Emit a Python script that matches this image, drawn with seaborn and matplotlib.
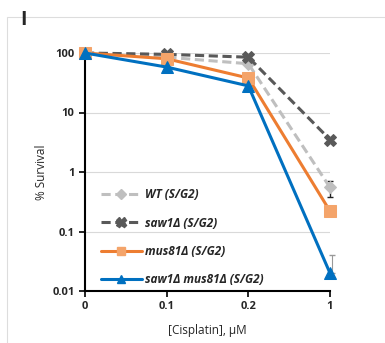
import numpy as np
import pandas as pd
import seaborn as sns
import matplotlib.pyplot as plt
from matplotlib.patches import Rectangle
from matplotlib.lines import Line2D

doses = ["0", "0.1", "0.2", "1"]
wt = [100, 85, 66, 0.55]
saw1 = [100, 95, 85, 3.5]
mus81 = [100, 80, 38, 0.22]
saw1_mus81 = [100, 58, 28, 0.02]
wt_err_lo = [0, 0, 0, 0.17]
wt_err_hi = [0, 0, 0, 0.16]
saw1_mus81_err = [0, 0, 0, 0.02]
labels = ["WT (S/G2)", "saw1Δ (S/G2)", "mus81Δ (S/G2)", "saw1Δ mus81Δ (S/G2)"]

sns.set_theme(style="white")
plt.rcParams['font.family'] = ['Open Sans', 'DejaVu Sans']

fig = plt.figure(figsize=(3.85, 3.43), dpi=100)
fig.patches.append(Rectangle((7/385, -0.1), 1.2, 1 - 17/343 + 0.1, transform=fig.transFigure,
                             fill=False, edgecolor='#dddddd', linewidth=0.8))
fig.text(20/385, 1 - 20/343, "I", fontsize=14, fontweight='bold', va='center', ha='left')

ax = fig.add_axes([85/385, 1 - 291/343, (330 - 85)/385, (291 - 53)/343])

x = np.arange(len(doses))

ax.errorbar(x, wt, yerr=[wt_err_lo, wt_err_hi], fmt='none', ecolor='#222222',
            elinewidth=1.0, capsize=2.5, capthick=1.0, zorder=2, clip_on=False)
ax.errorbar(x + 0.02, saw1_mus81, yerr=[np.zeros(4), saw1_mus81_err], fmt='none', ecolor='#999999',
            elinewidth=0.8, capsize=2.5, zorder=2, clip_on=False)

series = [
    (wt, labels[0], '#BFBFBF', '#BFBFBF', 'D', (3, 1.5), 6),
    (saw1, labels[1], '#595959', '#595959', 'X', (3, 1.5), 9),
    (mus81, labels[2], '#ED7D31', '#F4A46A', 's', None, 8),
    (saw1_mus81, labels[3], '#0070C0', '#0070C0', '^', None, 8),
]
handles = []
for vals, lab, lc, mc, mk, dash, ms in series:
    df = pd.DataFrame({"x": x, "y": vals})
    kw = dict(dashes=dash) if dash else {}
    sns.lineplot(data=df, x="x", y="y", ax=ax, color=lc, linewidth=2.2,
                 marker=mk, markersize=ms, markerfacecolor=mc, markeredgecolor=mc,
                 clip_on=False, zorder=3, **kw)
    h = Line2D([], [], color=lc, linewidth=2.2, marker=mk, markersize=ms * 0.8,
               markerfacecolor=mc, markeredgecolor=mc,
               linestyle=(0, dash) if dash else '-')
    handles.append(h)

ax.set_yscale('log')
ax.set_ylim(0.01, 100)
ax.set_xlim(0, 3)
ax.set_xticks(x)
ax.set_xticklabels(doses)
ax.set_yticks([0.01, 0.1, 1, 10, 100])
ax.set_yticklabels(["0.01", "0.1", "1", "10", "100"])
ax.minorticks_off()
ax.yaxis.grid(True, color='#d9d9d9', linewidth=0.8)
ax.set_axisbelow(True)
for s in ['top', 'right']:
    ax.spines[s].set_visible(False)
for s in ['left', 'bottom']:
    ax.spines[s].set_color('black')
    ax.spines[s].set_linewidth(1.5)
ax.tick_params(axis='both', which='major', direction='out', length=4, width=1.2,
               labelsize=8, color='black', left=True, bottom=True)
for t in ax.get_xticklabels() + ax.get_yticklabels():
    t.set_fontweight('bold')
ax.set_xlabel("[Cisplatin], μM", fontsize=8.5, labelpad=8)
ax.set_ylabel("% Survival", fontsize=8.5, labelpad=3)

leg = ax.legend(handles, labels, loc='lower left', bbox_to_anchor=(0.02, -0.025), frameon=False,
                handlelength=3.5, handletextpad=0.3, labelspacing=1.3,
                prop={'size': 8.5, 'weight': 'bold', 'style': 'italic'})

fig.savefig("out.png", dpi=100)
